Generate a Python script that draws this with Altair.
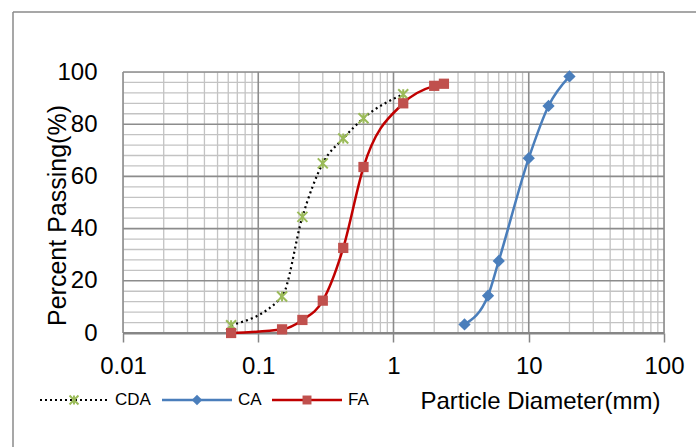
import altair as alt
import pandas as pd

# Sieve analysis: particle diameter (mm) vs. percent passing
cda_size = [0.063, 0.15, 0.212, 0.3, 0.425, 0.6, 1.18]
cda_pass = [3, 14, 44.5, 65, 74.5, 82.3, 91.5]

ca_size = [3.35, 5, 6, 10, 14, 20]
ca_pass = [3.3, 14.3, 27.6, 67, 87, 98.3]

fa_size = [0.063, 0.15, 0.212, 0.3, 0.425, 0.6, 1.18, 2.0, 2.36]
fa_pass = [0, 1.4, 5, 12.4, 32.6, 63.6, 88, 94.7, 95.5]

x_major = [0.01, 0.1, 1, 10, 100]
y_major = [0, 20, 40, 60, 80, 100]

# minor grid: 2..9 within each decade, every 4 % on the y axis
x_minor = [k * d for d in [0.01, 0.1, 1, 10] for k in range(2, 10)]
y_minor = [v for v in range(4, 100, 4) if v % 20]

W, H = 541, 261
FONT = "Liberation Sans"
GRID_MAJOR = "#8c8c8c"
GRID_MINOR = "#c3c3c3"

xs = alt.Scale(type="log", domain=[0.01, 100], nice=False)
ys = alt.Scale(domain=[0, 100], nice=False, zero=True)

cda = pd.DataFrame({"size": cda_size, "passing": cda_pass})
ca = pd.DataFrame({"size": ca_size, "passing": ca_pass})
fa = pd.DataFrame({"size": fa_size, "passing": fa_pass})

STAR = "M-1,-1L1,1M-1,1L1,-1M0,-1L0,1"

x_axis = alt.Axis(
    values=x_major, format="~g", grid=False, domain=True,
    domainColor="#868686", domainWidth=2,
    ticks=True, tickColor="#868686", tickWidth=1.5, tickSize=9,
    labelFontSize=24, labelColor="black", labelFont=FONT,
    labelBaseline="middle", labelPadding=24, labelFlush=False,
    title="Particle Diameter(mm)", titleFont=FONT, titleFontSize=24,
    titleFontWeight="normal", titleColor="black",
    titleAlign="right", titleBaseline="alphabetic", titleX=537, titleY=75,
)
y_axis = alt.Axis(
    values=y_major, grid=False, domain=False, ticks=False, tickSize=0,
    labelFontSize=24, labelColor="black", labelFont=FONT,
    labelBaseline="middle", labelPadding=26,
    title="Percent Passing(%)", titleFont=FONT, titleFontSize=25,
    titleFontWeight="normal", titleColor="black", titleAngle=270,
    titleAlign="center", titleBaseline="alphabetic", titleX=-58, titleY=143,
)

def X(field):
    return alt.X(field, scale=xs, axis=x_axis)

def Y(field):
    return alt.Y(field, scale=ys, axis=y_axis)

grid_x_minor = alt.Chart(pd.DataFrame({"size": x_minor})).mark_rule(
    color=GRID_MINOR, strokeWidth=1.3).encode(x=X("size:Q"))
grid_y_minor = alt.Chart(pd.DataFrame({"passing": y_minor})).mark_rule(
    color=GRID_MINOR, strokeWidth=1.3).encode(y=Y("passing:Q"))
grid_x_major = alt.Chart(pd.DataFrame({"size": x_major})).mark_rule(
    color=GRID_MAJOR, strokeWidth=1.6).encode(x=X("size:Q"))
grid_y_major = alt.Chart(pd.DataFrame({"passing": y_major})).mark_rule(
    color=GRID_MAJOR, strokeWidth=1.6).encode(y=Y("passing:Q"))

# bottom baseline drawn over the grid
base = alt.Chart(pd.DataFrame({"passing": [0]})).mark_rule(
    color="#868686", strokeWidth=2).encode(y=Y("passing:Q"))

def enc(chart):
    return chart.encode(x=X("size:Q"), y=Y("passing:Q"))

cda_line = enc(alt.Chart(cda).mark_line(
    color="black", strokeWidth=2.2, strokeDash=[2, 3.2], interpolate="monotone"))
cda_pts = enc(alt.Chart(cda).mark_point(
    shape=STAR, filled=False, stroke="#9BBB59", strokeWidth=2, size=100, opacity=1))
ca_line = enc(alt.Chart(ca).mark_line(
    color="#4A7EBB", strokeWidth=2.5, interpolate="monotone"))
ca_pts = enc(alt.Chart(ca).mark_point(
    shape="diamond", filled=True, color="#4A7EBB", size=150, opacity=1))
fa_line = enc(alt.Chart(fa).mark_line(
    color="#C00000", strokeWidth=2.5, interpolate="monotone"))
fa_pts = enc(alt.Chart(fa).mark_point(
    shape="square", filled=True, color="#C0504D", size=105, opacity=1))

# legend row below the plot (offsets from the plot's top-left corner)
LY = 328
one = pd.DataFrame({"k": [0]})

def legend_item(x0, x1, xm, xt, label, line_kw, pt_kw):
    ln = alt.Chart(one).mark_rule(**line_kw).encode(
        x=alt.value(x0), x2=alt.value(x1), y=alt.value(LY))
    pt = alt.Chart(one).mark_point(opacity=1, **pt_kw).encode(
        x=alt.value(xm), y=alt.value(LY))
    tx = alt.Chart(one).mark_text(
        text=label, align="left", baseline="middle", font=FONT, fontSize=17,
        color="black").encode(x=alt.value(xt), y=alt.value(LY))
    return [ln, pt, tx]

legend = (
    legend_item(-83, -16, -49, -8, "CDA",
                dict(color="black", strokeWidth=2, strokeDash=[2, 3]),
                dict(shape=STAR, filled=False, stroke="#9BBB59", strokeWidth=2, size=80))
    + legend_item(39, 109, 74, 115, "CA",
                  dict(color="#4A7EBB", strokeWidth=2.5),
                  dict(shape="diamond", filled=True, color="#4A7EBB", size=110))
    + legend_item(149, 219, 184, 225, "FA",
                  dict(color="#C00000", strokeWidth=2.5),
                  dict(shape="square", filled=True, color="#C0504D", size=80))
)

# outer chart frame: top and left edges (the rest lies outside the canvas)
frame_top = alt.Chart(one).mark_rule(color="#8a8a8a", strokeWidth=1.5).encode(
    x=alt.value(-110), x2=alt.value(700), y=alt.value(-60))
frame_left = alt.Chart(one).mark_rule(color="#8a8a8a", strokeWidth=1.5).encode(
    x=alt.value(-110), y=alt.value(-60), y2=alt.value(500))

chart = alt.layer(
    frame_top, frame_left, grid_x_minor, grid_y_minor, grid_x_major, grid_y_major,
    base, cda_line, cda_pts, ca_line, ca_pts, fa_line, fa_pts, *legend
).properties(
    width=W, height=H,
    autosize=alt.AutoSizeParams(type="none"),
    padding={"left": 123, "top": 72, "right": 32, "bottom": 114},
    background="white",
).configure_view(strokeWidth=0).configure(font=FONT)

chart.save("out.html", embed_options={"renderer": "svg", "actions": False})
